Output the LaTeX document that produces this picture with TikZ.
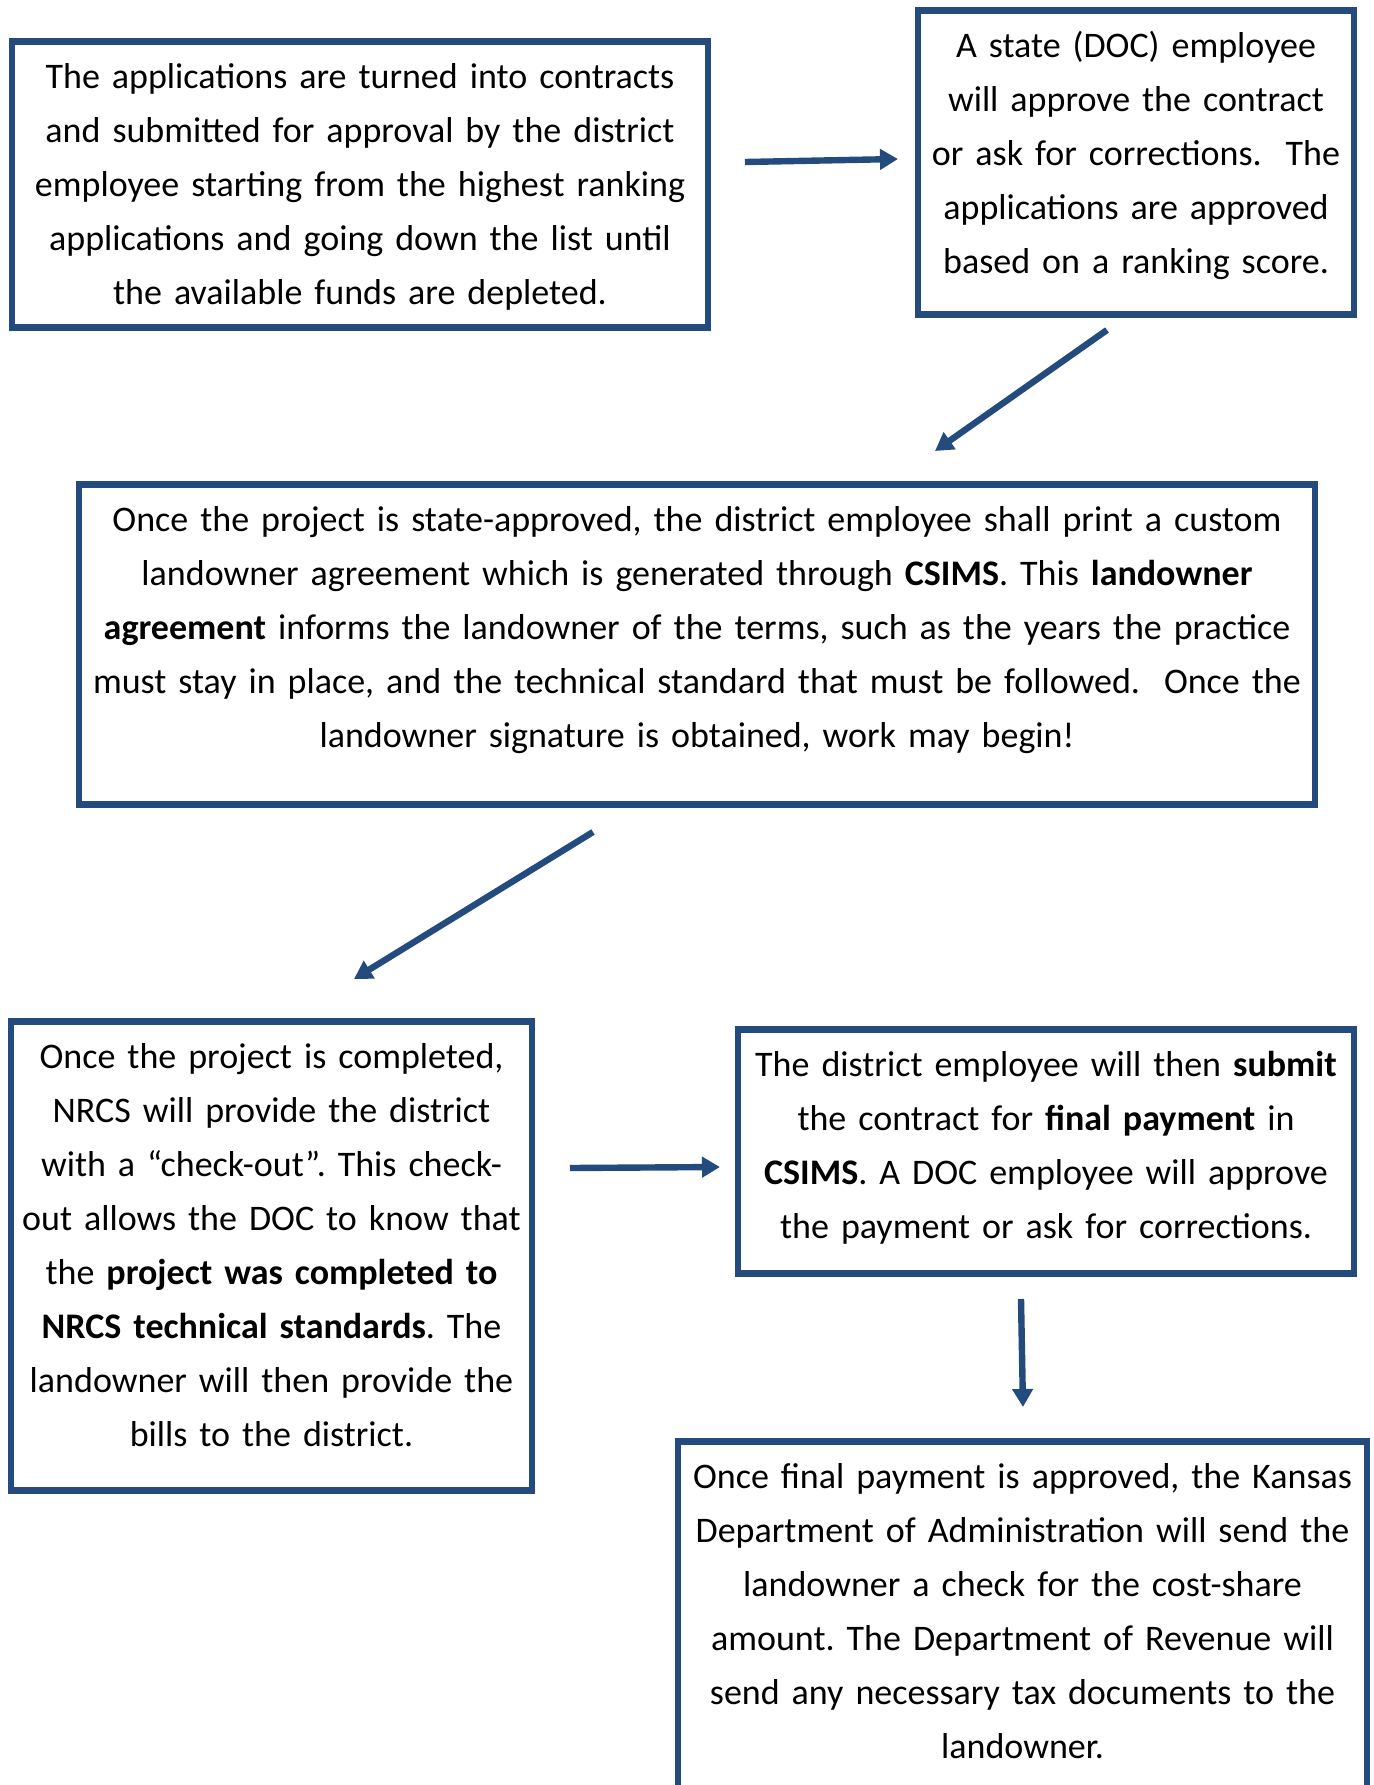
\documentclass[tikz,border=0pt]{standalone}
\usepackage{fontspec}
\setmainfont{Carlito}
\usetikzlibrary{arrows.meta}
\definecolor{boxblue}{RGB}{36,75,125}
\frenchspacing

\begin{document}
\begin{tikzpicture}[x=0.5pt,y=-0.5pt,
	panel/.style={draw=boxblue,line width=3.3pt,fill=white,anchor=north,inner sep=0pt,
		text height=23.5pt,align=center,font=\fontsize{18pt}{27pt}\selectfont},
	flow/.style={draw=boxblue,line width=3.2pt,-{Triangle[length=9pt,width=10pt]}}]
	\useasboundingbox (0,0) rectangle (1374,1785);
	\clip (0,0) rectangle (1374,1785);

	\node[panel,text width=348pt,text depth=119.5pt] (contracts) at (360,38)
		{The applications are turned into contracts\\
		and submitted for approval by the district\\
		employee starting from the highest ranking\\
		applications and going down the list until\\
		the available funds are depleted.};
	\node[panel,text width=218pt,text depth=128.5pt] (stateok) at (1136,7)
		{A state (DOC) employee\\
		will approve the contract\\
		or ask for corrections.~ The\\
		applications are approved\\
		based on a ranking score.};
	\node[panel,text width=618pt,text depth=136.5pt] (agreement) at (697,481)
		{Once the project is state-approved, the district employee shall print a custom\\
		landowner agreement which is generated through \textbf{CSIMS}. This \textbf{landowner}\\
		\textbf{agreement} informs the landowner of the terms, such as the years the practice\\
		must stay in place, and the technical standard that must be followed.~ Once the\\
		landowner signature is obtained, work may begin!};
	\node[panel,text width=260.5pt,text depth=211pt] (checkout) at (271.5,1018)
		{Once the project is completed,\\
		NRCS will provide the district\\
		with a “check-out”. This check-\\
		out allows the DOC to know that\\
		the \textbf{project was completed to}\\
		\textbf{NRCS technical standards}. The\\
		landowner will then provide the\\
		bills to the district.};
	\node[panel,text width=308pt,text depth=98.5pt] (payment) at (1046,1026)
		{The district employee will then \textbf{submit}\\
		the contract for \textbf{final payment} in\\
		\textbf{CSIMS}. A DOC employee will approve\\
		the payment or ask for corrections.};
	\node[panel,text width=344.5pt,text depth=160pt] (check) at (1022.5,1438)
		{Once final payment is approved, the Kansas\\
		Department of Administration will send the\\
		landowner a check for the cost-share\\
		amount. The Department of Revenue will\\
		send any necessary tax documents to the\\
		landowner.};

	\coordinate (a1) at (745,162);  \coordinate (b1) at (898,159);
	\coordinate (a2) at (1107,330); \coordinate (b2) at (935,451);
	\coordinate (a3) at (593,832);  \coordinate (b3) at (354,979);
	\coordinate (a4) at (570,1168); \coordinate (b4) at (720,1167);
	\coordinate (a5) at (1021,1299); \coordinate (b5) at (1023,1407);
	\draw[flow] (a1) -- (b1);
	\draw[flow] (a2) -- (b2);
	\draw[flow] (a3) -- (b3);
	\draw[flow] (a4) -- (b4);
	\draw[flow] (a5) -- (b5);
\end{tikzpicture}
\end{document}
